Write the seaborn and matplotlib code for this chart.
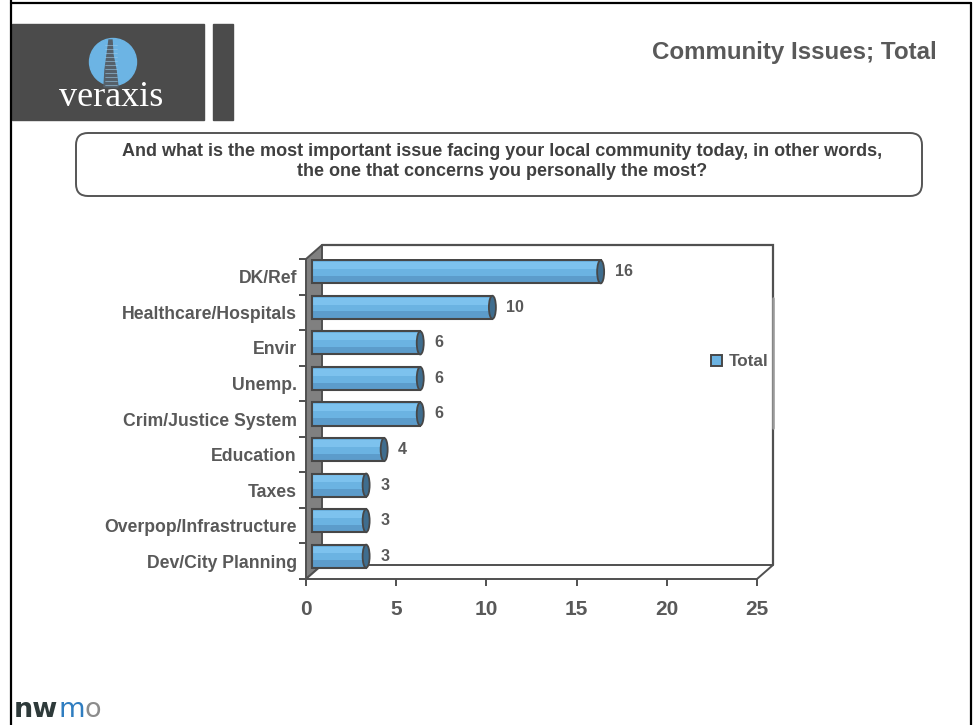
import numpy as np
import pandas as pd
import matplotlib
matplotlib.use("Agg")
import matplotlib.pyplot as plt
import matplotlib.transforms as mtransforms
from matplotlib.patches import Rectangle, Polygon, Ellipse, FancyBboxPatch, Circle, Patch
import seaborn as sns

# ---- data -----------------------------------------------------------------
categories = ["DK/Ref", "Healthcare/Hospitals", "Envir", "Unemp.",
              "Crim/Justice System", "Education", "Taxes",
              "Overpop/Infrastructure", "Dev/City Planning"]
totals = [16, 10, 6, 6, 6, 4, 3, 3, 3]
series_name = "Total"
x_ticks = [0, 5, 10, 15, 20, 25]
title = "Community Issues; Total"
question = ("And what is the most important issue facing your local community today, in other words,\n"
            "the one that concerns you personally the most?")

# ---- styling --------------------------------------------------------------
W, H, DPI = 973, 725, 100
TEXT = "#595959"
EDGE = "#505050"
BAR = "#6BB3E2"
BAR_LIGHT = "#7DC2EE"
BAR_DARK = "#5C9CCB"
CAP = "#3F6D8E"

sns.set_theme(style="white")
plt.rcParams["font.family"] = ["Liberation Sans", "DejaVu Sans"]

fig = plt.figure(figsize=(W / DPI, H / DPI), dpi=DPI)
fig.patch.set_facecolor("white")

# pixel-space layer for the slide decoration
bg = fig.add_axes([0, 0, 1, 1], zorder=0)
bg.set_xlim(0, W)
bg.set_ylim(H, 0)
bg.axis("off")

# slide frame
bg.plot([11, 11], [0, H], color="black", lw=1.6)
bg.plot([11, 971], [3, 3], color="black", lw=1.6)
bg.plot([971, 971], [3, H], color="black", lw=1.6)

# veraxis logo block
bg.add_patch(Rectangle((12, 24), 192, 96, color="#4B4B4B"))
bg.add_patch(Rectangle((213, 24), 20, 96, color="#4B4B4B"))
bg.add_patch(Circle((113, 62), 23.5, color="#6CB4E4"))
bg.add_patch(Polygon([(109, 40), (107, 55), (105, 70), (104, 87),
                      (118, 87), (116, 70), (113, 55), (112, 40)],
                     closed=True, color="#55606A"))
for yy in np.arange(45, 86, 4):
    bg.plot([105, 117], [yy, yy], color="#9CCBEA", lw=0.4)
bg.text(111, 106, "veraxis", ha="center", va="baseline", color="white",
        fontsize=26, family=["Liberation Serif", "DejaVu Serif"])

# nwmo logo
t1 = bg.text(14, 717, "nw", ha="left", va="baseline", color="#2E3A3A",
             fontsize=19.5, fontweight="heavy", family=["DejaVu Sans"])
t2 = bg.annotate("m", xy=(1, 0), xycoords=t1, va="bottom", ha="left",
                 color="#2F7DC0", fontsize=19.5, fontweight="normal",
                 family=["DejaVu Sans"])
bg.annotate("o", xy=(1, 0), xycoords=t2, va="bottom", ha="left",
            color="#8C8C8C", fontsize=19.5, fontweight="normal",
            family=["DejaVu Sans"])

# title and question box
bg.text(937, 52, title, ha="right", va="center", fontsize=17.4,
        fontweight="bold", color=TEXT)
bg.add_patch(FancyBboxPatch((76, 133), 846, 63,
                            boxstyle="round,pad=0,rounding_size=12",
                            facecolor="white", edgecolor="#555555", lw=1.4))
bg.text(502, 161.5, question, ha="center", va="center", fontsize=13,
        fontweight="bold", color="#404040", linespacing=1.27)

# ---- chart ----------------------------------------------------------------
X0, X1, YT, YB = 306, 757, 259, 579          # front plane in pixels
ax = fig.add_axes([X0 / W, (H - YB) / H, (X1 - X0) / W, (YB - YT) / H], zorder=2)
ax.patch.set_visible(False)

df = pd.DataFrame({"issue": categories, "value": totals, "series": series_name})
sns.barplot(data=df, x="value", y="issue", orient="h", color=BAR,
            saturation=1, width=0.65, ax=ax, legend=False)

ax.set_xlim(0, 25)
ax.set_ylim(8.5, -0.5)
ax.set_xlabel("")
ax.set_ylabel("")

px_x = 25 / (X1 - X0)
px_y = 9 / (YB - YT)
dxb, dyb = 16 * px_x, -14 * px_y             # depth of the 3-D box

# back wall
ax.add_patch(Rectangle((dxb, -0.5 + dyb), 25, 9, facecolor="white",
                       edgecolor="none", zorder=0.2, clip_on=False))
ax.plot([dxb, 25 + dxb, 25 + dxb], [-0.5 + dyb, -0.5 + dyb, 8.5 + dyb],
        color=EDGE, lw=1.6, zorder=0.3, clip_on=False, solid_joinstyle="miter")
ax.plot([25 + dxb, 25 + dxb], [1.0 + dyb, 4.65 + dyb], color="#9A9A9A",
        lw=1.8, zorder=0.31, clip_on=False)
# left wall
ax.add_patch(Polygon([(0, -0.5), (dxb, -0.5 + dyb), (dxb, 8.5 + dyb), (0, 8.5)],
                     closed=True, facecolor="#808080", edgecolor=EDGE, lw=1.4,
                     zorder=0.4, clip_on=False))
# floor
ax.add_patch(Polygon([(0, 8.5), (25, 8.5), (25 + dxb, 8.5 + dyb), (dxb, 8.5 + dyb)],
                     closed=True, facecolor="white", edgecolor=EDGE, lw=1.4,
                     zorder=0.5, clip_on=False))

# bars sit half-way into the depth of the box
bar_tr = ax.transData + mtransforms.ScaledTranslation(6 / DPI, 5 / DPI, fig.dpi_scale_trans)
lab_tr = ax.transData + mtransforms.ScaledTranslation(20 / DPI, 5 / DPI, fig.dpi_scale_trans)

for p, v in zip(ax.patches[:len(totals)], totals):
    p.set_transform(bar_tr)
    p.set_edgecolor("none")
    p.set_zorder(2)
    x0, y0, w, h = p.get_x(), p.get_y(), p.get_width(), p.get_height()
    ax.add_patch(Rectangle((x0, y0 + 0.08 * h), w, 0.3 * h, facecolor=BAR_LIGHT,
                           edgecolor="none", transform=bar_tr, zorder=2.1))
    ax.add_patch(Rectangle((x0, y0 + 0.68 * h), w, 0.32 * h, facecolor=BAR_DARK,
                           edgecolor="none", transform=bar_tr, zorder=2.1))
    ax.add_patch(Rectangle((x0, y0), w, h, fill=False, edgecolor="#474747",
                           lw=1.5, transform=bar_tr, zorder=2.2))
    ax.add_patch(Ellipse((x0 + w, y0 + h / 2), 7 * px_x, h, facecolor=CAP,
                         edgecolor="#474747", lw=1.3, transform=bar_tr, zorder=2.3))
    ax.text(v, y0 + h / 2, f"{v}", transform=lab_tr, ha="left", va="center",
            fontsize=11.5, fontweight="bold", color=TEXT)

# axes, ticks and labels
for s in ax.spines.values():
    s.set_visible(False)
ax.set_xticks(x_ticks)
ax.set_xticklabels([str(t) for t in x_ticks])
ax.tick_params(axis="x", bottom=True, direction="out", length=5, width=1.4,
               color=EDGE, pad=10, labelsize=15, labelcolor=TEXT)
ax.set_yticks(range(len(categories)))
ax.set_yticklabels(categories)
ax.set_yticks(np.arange(-0.5, len(categories), 1), minor=True)
ax.tick_params(axis="y", which="major", left=True, length=0, pad=6.5,
               labelsize=12.7, labelcolor=TEXT)
ax.tick_params(axis="y", which="minor", left=True, direction="out", length=5,
               width=1.4, color=EDGE)
for lbl in ax.get_xticklabels():
    lbl.set_fontweight("bold")
for lbl in ax.get_yticklabels():
    lbl.set_fontweight("bold")
    lbl.set_va("center_baseline")

leg = ax.legend(handles=[Patch(facecolor=BAR, edgecolor="#474747", lw=1.4)],
                labels=[series_name], loc="center left",
                bbox_to_anchor=(711 / W, 1 - 362 / H), bbox_transform=fig.transFigure,
                frameon=False, handlelength=0.65, handleheight=0.65,
                handletextpad=0.4, borderpad=0, borderaxespad=0,
                prop={"weight": "bold", "size": 12.3})
for t in leg.get_texts():
    t.set_color(TEXT)

fig.savefig("out.png", dpi=DPI, facecolor="white")
